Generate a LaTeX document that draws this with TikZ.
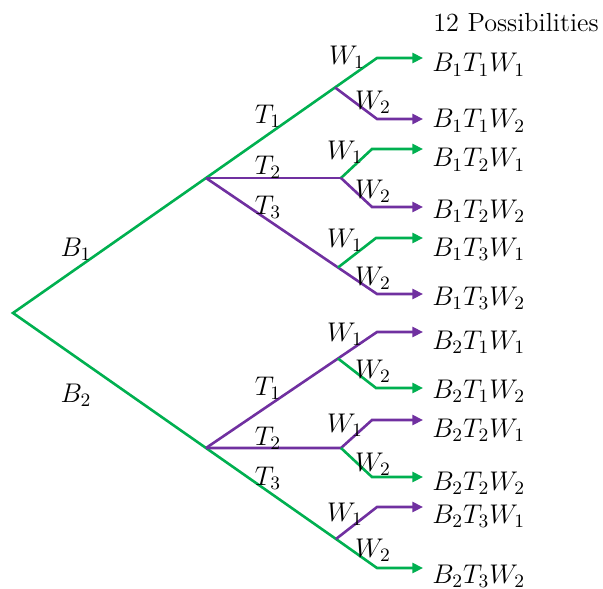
\RequirePackage{fix-cm}
\documentclass[tikz,border=0pt]{standalone}
\usetikzlibrary{arrows.meta}
\definecolor{tgreen}{RGB}{0,176,80}
\definecolor{tpurple}{RGB}{112,48,160}
\begin{document}
\begin{tikzpicture}[x=0.5pt,y=-0.5pt,line width=1.3pt,
  g/.style={draw=tgreen},
  p/.style={draw=tpurple},
  arr/.style={-{Triangle[length=5.3pt,width=5pt]}},
  lab/.style={font=\fontsize{13.5}{16}\selectfont,inner sep=0pt},
  outc/.style={lab,anchor=base west}]
\useasboundingbox (0,0) rectangle (603,588);
% branch points
\coordinate (root) at (13,313);
\coordinate (b1) at (206,178);
\coordinate (b2) at (206,448);
% top subtree
\coordinate (t1s) at (335,87.5);
\coordinate (w11c) at (377,58);
\coordinate (w12c) at (377,119);
\coordinate (t2s) at (341,178);
\coordinate (w21c) at (372,149);
\coordinate (w22c) at (372,207);
\coordinate (t3s) at (338,267.5);
\coordinate (w31c) at (376,238);
\coordinate (w32c) at (377,294);
% bottom subtree
\coordinate (u1s) at (338,358.5);
\coordinate (v11c) at (377,332);
\coordinate (v12c) at (376,388);
\coordinate (u2s) at (341,448);
\coordinate (v21c) at (372,420);
\coordinate (v22c) at (372,477);
\coordinate (u3s) at (336,539);
\coordinate (v31c) at (377,507);
\coordinate (v32c) at (377,568);
% arrow tips
\coordinate (a111) at (423,58);
\coordinate (a112) at (423,119);
\coordinate (a121) at (423,149);
\coordinate (a122) at (423,207);
\coordinate (a131) at (423,238);
\coordinate (a132) at (423,294);
\coordinate (a211) at (423,332);
\coordinate (a212) at (423,388);
\coordinate (a221) at (423,420);
\coordinate (a222) at (423,477);
\coordinate (a231) at (423,507);
\coordinate (a232) at (423,568);
% connectors
\draw[g,{Triangle[length=5.3pt,width=5pt]}-{Triangle[length=5.3pt,width=5pt]}]
  (a111) -- (w11c) -- (t1s) -- (b1) -- (root) -- (b2) -- (u3s) -- (v32c) -- (a232);
\draw[p,arr] (t1s) -- (w12c) -- (a112);
\draw[p] (b1) -- (t2s);
\draw[g,arr] (t2s) -- (w21c) -- (a121);
\draw[p,arr] (t2s) -- (w22c) -- (a122);
\draw[p,arr] (b1) -- (t3s) -- (w32c) -- (a132);
\draw[g,arr] (t3s) -- (w31c) -- (a131);
\draw[p,arr] (b2) -- (u1s) -- (v11c) -- (a211);
\draw[g,arr] (u1s) -- (v12c) -- (a212);
\draw[p,arr] (b2) -- (u2s) -- (v21c) -- (a221);
\draw[g,arr] (u2s) -- (v22c) -- (a222);
\draw[p,arr] (u3s) -- (v31c) -- (a231);
% branch labels
\node[lab] (lb1) at (76,249) {$B_1$};
\node[lab] (lb2) at (76,395) {$B_2$};
\node[lab] (lt1a) at (268,116) {$T_1$};
\node[lab] (lt2a) at (268,167) {$T_2$};
\node[lab] (lt3a) at (268,207) {$T_3$};
\node[lab] (lt1b) at (268,388) {$T_1$};
\node[lab] (lt2b) at (268,438) {$T_2$};
\node[lab] (lt3b) at (268,478) {$T_3$};
\node[lab] (lw11) at (347,57) {$W_1$};
\node[lab] (lw12) at (373,102) {$W_2$};
\node[lab] (lw21) at (345,152) {$W_1$};
\node[lab] (lw22) at (373,191) {$W_2$};
\node[lab] (lw31) at (345,240) {$W_1$};
\node[lab] (lw32) at (373,278) {$W_2$};
\node[lab] (mw11) at (345,334) {$W_1$};
\node[lab] (mw12) at (373,371) {$W_2$};
\node[lab] (mw21) at (345,425) {$W_1$};
\node[lab] (mw22) at (373,464) {$W_2$};
\node[lab] (mw31) at (345,514) {$W_1$};
\node[lab] (mw32) at (373,550) {$W_2$};
% outcomes
\node[lab,font=\fontsize{13.1}{15}\selectfont,anchor=base west] (title) at (432,31.5) {12 Possibilities};
\node[outc] (o111) at (431,72) {$B_1T_1W_1$};
\node[outc] (o112) at (431,128) {$B_1T_1W_2$};
\node[outc] (o121) at (431,167) {$B_1T_2W_1$};
\node[outc] (o122) at (431,218) {$B_1T_2W_2$};
\node[outc] (o131) at (431,256) {$B_1T_3W_1$};
\node[outc] (o132) at (431,305) {$B_1T_3W_2$};
\node[outc] (o211) at (431,349) {$B_2T_1W_1$};
\node[outc] (o212) at (431,398) {$B_2T_1W_2$};
\node[outc] (o221) at (431,437) {$B_2T_2W_1$};
\node[outc] (o222) at (431,490) {$B_2T_2W_2$};
\node[outc] (o231) at (431,523) {$B_2T_3W_1$};
\node[outc] (o232) at (431,583) {$B_2T_3W_2$};
\end{tikzpicture}
\end{document}
